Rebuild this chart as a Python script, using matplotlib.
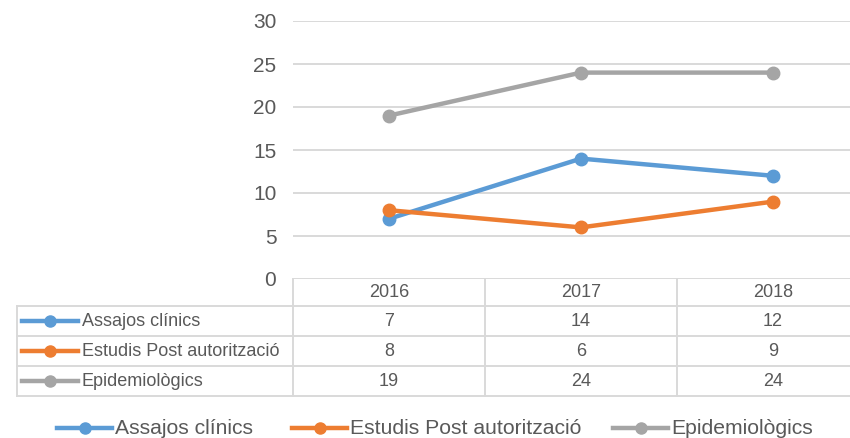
import numpy as np
import matplotlib.pyplot as plt
from matplotlib import transforms

years = ['2016', '2017', '2018']
series_names = ['Assajos clínics', 'Estudis Post autorització', 'Epidemiològics']
assajos = [7, 14, 12]
estudis = [8, 6, 9]
epidemio = [19, 24, 24]
y_ticks = [0, 5, 10, 15, 20, 25, 30]

colors = ['#5b9bd5', '#ed7d31', '#a5a5a5']
text_col = '#595959'
grid_col = '#d9d9d9'

plt.rcParams['font.family'] = ['Liberation Sans', 'DejaVu Sans']

W, H = 850, 438
fig = plt.figure(figsize=(W / 100, H / 100), dpi=100)

# overlay in pixel coords for the data table and legend
ov = fig.add_axes([0, 0, 1, 1])
ov.set_xlim(0, W)
ov.set_ylim(H, 0)
ov.axis('off')

# chart area
left, right, top, bottom = 293, 869, 21, 279
ax = fig.add_axes([left / W, 1 - bottom / H, (right - left) / W, (bottom - top) / H])
ax.set_facecolor('none')
x = np.arange(len(years))
data = [assajos, estudis, epidemio]
for vals, c in zip(data, colors):
    ax.plot(x, vals, color=c, lw=3.2, marker='o', ms=9, solid_capstyle='round', zorder=3)
ax.set_xlim(-0.5, len(years) - 0.5)
ax.set_ylim(0, 30)
ax.set_yticks(y_ticks)
ax.set_xticks([])
ax.yaxis.grid(True, color=grid_col, lw=1.4)
ax.set_axisbelow(True)
ax.tick_params(axis='y', length=0, pad=12, labelsize=15, labelcolor=text_col)
for s in ax.spines.values():
    s.set_visible(False)

# data table
row_lines = [306, 336, 366, 396]
col_lines = [293, 485, 677, 869]
lk = dict(color=grid_col, lw=1.4, clip_on=False)
for y in row_lines:
    ov.plot([17, 869], [y, y], **lk)
ov.plot([17, 17], [306, 396], **lk)
for cx in col_lines:
    ov.plot([cx, cx], [279, 396], **lk)

blend = transforms.blended_transform_factory(ax.transData, ov.transData)
header_y = 292.5
row_y = [321, 351, 381]
for i, yr in enumerate(years):
    ov.text(i, header_y, yr, transform=blend, ha='center', va='center',
            fontsize=13, color=text_col)
for r, (vals, name, c) in enumerate(zip(data, series_names, colors)):
    yy = row_y[r]
    ov.plot([22, 78], [yy, yy], color=c, lw=3.2)
    ov.plot([50], [yy], 'o', color=c, ms=8)
    ov.text(82, yy, name, ha='left', va='center', fontsize=13, color=text_col)
    for i, v in enumerate(vals):
        ov.text(i, yy, str(v), transform=blend, ha='center', va='center',
                fontsize=13, color=text_col)

# bottom legend, laid out by hand
leg_x = [57, 292, 613]
leg_y = 428
for lx, name, c in zip(leg_x, series_names, colors):
    ov.plot([lx, lx + 55], [leg_y, leg_y], color=c, lw=3.2)
    ov.plot([lx + 28], [leg_y], 'o', color=c, ms=8)
    ov.text(lx + 58, leg_y + 1, name, ha='left', va='center', fontsize=15.2,
            color=text_col)

fig.savefig('out.png', dpi=100)
